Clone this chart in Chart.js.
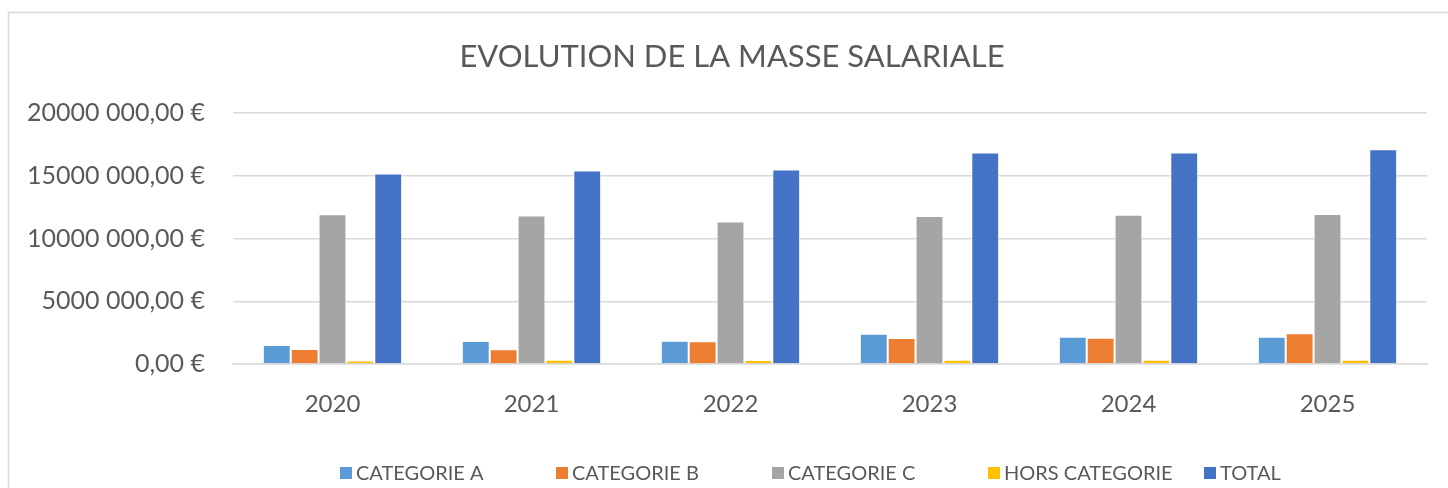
<!DOCTYPE html>
<html>
<head>
<meta charset="utf-8">
<script src="https://cdn.jsdelivr.net/npm/chart.js@4"></script>
<style>
  html, body { margin: 0; padding: 0; background: #fff; }
  #wrap { width: 1448px; height: 488px; position: relative; }
</style>
</head>
<body>
<div id="wrap"><canvas id="masseChart" width="1448" height="488"></canvas></div>
<script>
// Data
const chartTitle = 'EVOLUTION DE LA MASSE SALARIALE';
const years = ['2020', '2021', '2022', '2023', '2024', '2025'];
const categorieA = [1520000, 1840000, 1860000, 2420000, 2180000, 2180000];
const categorieB = [1200000, 1170000, 1810000, 2080000, 2100000, 2450000];
const categorieC = [11930000, 11830000, 11350000, 11800000, 11900000, 11960000];
const horsCategorie = [280000, 340000, 320000, 340000, 340000, 340000];
const total = [15180000, 15420000, 15500000, 16860000, 16860000, 17120000];
const yTicks = [0, 5000000, 10000000, 15000000, 20000000];

const textColor = '#595959';
const gridColor = '#d9d9d9';

// Excel style money: "20000 000,00 €"
function euro(v) {
    if (v === 0) return '0,00 €';
    const millions = Math.floor(v / 1000000);
    const rest = String(v % 1000000).padStart(6, '0');
    return millions + '' + rest.slice(0, 3) + ' ' + rest.slice(3) + ',00 €';
}

// Frame, title and an evenly spaced legend, like Excel
const excelFrame = {
    id: 'excelFrame',
    beforeDraw(chart) {
        const c = chart.ctx;
        c.save();
        c.fillStyle = '#fff';
        c.fillRect(0, 0, chart.width, chart.height);
        c.strokeStyle = '#d9d9d9';
        c.lineWidth = 1.5;
        c.strokeRect(8.5, 12.5, chart.width + 20, chart.height + 20);
        c.restore();
    },
    afterDraw(chart) {
        const c = chart.ctx;
        c.save();
        // title, centred on the frame rather than the canvas
        c.font = '31px Lato';
        c.fillStyle = textColor;
        c.textAlign = 'center';
        c.textBaseline = 'middle';
        c.fillText(chartTitle, 732, 57);

        c.font = '20px Lato';
        c.textAlign = 'left';
        chart.data.datasets.forEach((ds, i) => {
            const x = 340 + i * 216;
            const y = 473;
            c.fillStyle = ds.backgroundColor;
            c.fillRect(x, y - 6, 12, 12);
            c.fillStyle = textColor;
            c.fillText(ds.label, x + 16, y + 1);
        });
        c.restore();
    }
};

const ctx = document.getElementById('masseChart').getContext('2d');
new Chart(ctx, {
    type: 'bar',
    data: {
        labels: years,
        datasets: [
            { label: 'CATEGORIE A', data: categorieA, backgroundColor: '#5B9BD5' },
            { label: 'CATEGORIE B', data: categorieB, backgroundColor: '#ED7D31' },
            { label: 'CATEGORIE C', data: categorieC, backgroundColor: '#A5A5A5' },
            { label: 'HORS CATEGORIE', data: horsCategorie, backgroundColor: '#FFC000' },
            { label: 'TOTAL', data: total, backgroundColor: '#4472C4' }
        ]
    },
    options: {
        responsive: false,
        animation: false,
        devicePixelRatio: 1,
        datasets: {
            bar: {
                categoryPercentage: 0.7,
                barPercentage: 1.0,
                borderWidth: 1,
                borderColor: 'rgba(255,255,255,0.7)'
            }
        },
        layout: { padding: { left: 0, right: 21, top: 113, bottom: 62 } },
        plugins: {
            legend: { display: false },
            tooltip: { enabled: false },
            title: { display: false }
        },
        scales: {
            x: {
                grid: { display: false, drawTicks: false },
                border: { color: gridColor, width: 1.5 },
                ticks: {
                    color: textColor,
                    font: { family: 'Lato', size: 24 },
                    padding: 26
                },
                afterFit(scale) { scale.height = 62; }
            },
            y: {
                min: 0,
                max: 20000000,
                afterBuildTicks(scale) {
                    scale.ticks = yTicks.map(v => ({ value: v }));
                },
                grid: { color: gridColor, lineWidth: 1.5, drawTicks: false },
                border: { display: false },
                ticks: {
                    color: textColor,
                    font: { family: 'Lato', size: 25 },
                    padding: 28,
                    callback: v => euro(v)
                },
                afterFit(scale) { scale.width = 233; }
            }
        }
    },
    plugins: [excelFrame]
});
</script>
</body>
</html>
